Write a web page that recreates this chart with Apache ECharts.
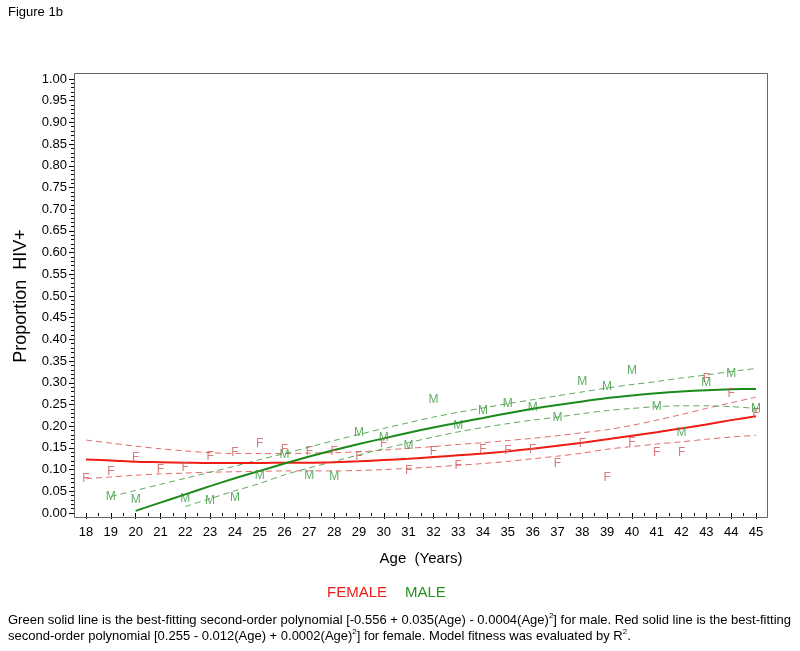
<!DOCTYPE html>
<html>
<head>
<meta charset="utf-8">
<title>Figure 1b</title>
<script src="https://cdn.jsdelivr.net/npm/echarts@6/dist/echarts.min.js"></script>
<style>
  html, body { margin: 0; padding: 0; background: #fff; }
  #chart { width: 800px; height: 651px; }
</style>
</head>
<body>
<div id="chart"></div>
<script>
// ages on the x axis
const ages = [18, 19, 20, 21, 22, 23, 24, 25, 26, 27, 28, 29, 30, 31,
  32, 33, 34, 35, 36, 37, 38, 39, 40, 41, 42, 43, 44, 45];

// observed proportions (the F / M letters)
const femaleObs = [0.079, 0.096, 0.128, 0.100, 0.105, 0.129, 0.138, 0.160, 0.146, 0.142,
  0.141, 0.129, 0.160, 0.097, 0.141, 0.108, 0.145, 0.143, 0.145, 0.114,
  0.160, 0.081, 0.162, 0.140, 0.138, 0.309, 0.274, 0.229];
const maleAges = [19, 20, 22, 23, 24, 25, 26, 27, 28, 29, 30, 31, 32,
  33, 34, 35, 36, 37, 38, 39, 40, 41, 42, 43, 44, 45];
const maleObs = [0.038, 0.031, 0.032, 0.029, 0.035, 0.085, 0.134, 0.085, 0.083, 0.184,
  0.173, 0.156, 0.260, 0.202, 0.236, 0.251, 0.243, 0.219, 0.303, 0.290,
  0.327, 0.246, 0.185, 0.300, 0.321, 0.240];

// fitted curves and bands, female 18-45
const femaleFit = [0.123, 0.121, 0.118, 0.117, 0.116, 0.115, 0.115, 0.115, 0.116, 0.116,
  0.117, 0.119, 0.122, 0.125, 0.129, 0.133, 0.137, 0.142, 0.148, 0.155,
  0.162, 0.170, 0.178, 0.186, 0.195, 0.204, 0.214, 0.223];
const femaleUpper = [0.168, 0.161, 0.154, 0.148, 0.143, 0.139, 0.137, 0.137, 0.137, 0.138,
  0.139, 0.141, 0.145, 0.149, 0.153, 0.158, 0.162, 0.167, 0.172, 0.178,
  0.185, 0.192, 0.202, 0.214, 0.227, 0.241, 0.254, 0.267];
const femaleLower = [0.079, 0.083, 0.087, 0.090, 0.092, 0.094, 0.095, 0.096, 0.097, 0.097,
  0.097, 0.098, 0.100, 0.103, 0.106, 0.110, 0.114, 0.119, 0.125, 0.131,
  0.138, 0.147, 0.153, 0.159, 0.164, 0.170, 0.175, 0.179];

// male: fit from 20, upper band from 19, lower band from 22
const maleFit = [0.005, 0.024, 0.043, 0.062, 0.080, 0.097, 0.114, 0.130, 0.145, 0.159,
  0.172, 0.185, 0.197, 0.208, 0.219, 0.230, 0.240, 0.249, 0.257, 0.265,
  0.271, 0.276, 0.280, 0.283, 0.285, 0.286];
const maleUpper = [0.038, 0.052, 0.066, 0.080, 0.094, 0.108, 0.123, 0.137, 0.152, 0.167,
  0.181, 0.195, 0.208, 0.221, 0.232, 0.242, 0.252, 0.261, 0.270, 0.279,
  0.288, 0.296, 0.303, 0.311, 0.318, 0.326, 0.333];
const maleLower = [0.015, 0.033, 0.051, 0.068, 0.088, 0.104, 0.119, 0.134, 0.148, 0.162,
  0.175, 0.187, 0.197, 0.206, 0.214, 0.221, 0.229, 0.236, 0.241, 0.245,
  0.247, 0.247, 0.245, 0.241];

const yTicks = [0, 1, 0.05];

function pairs(xs, ys) {
  return ys.map((v, i) => [xs[i], v]);
}
function fromAge(start, ys) {
  return pairs(ages.slice(ages.indexOf(start)), ys);
}

const FONT = "'Liberation Sans', Arial, sans-serif";
const RED = "#ee1c14";
const GREEN = "#1a8a1a";

let myChart = echarts.init(document.getElementById("chart"));

function letters(name, data, text, color) {
  return {
    name: name,
    type: "scatter",
    data: data,
    symbolSize: 1,
    itemStyle: { color: "rgba(0,0,0,0)" },
    label: {
      show: true,
      position: "inside",
      formatter: text,
      color: color,
      fontFamily: FONT,
      fontSize: 12,
    },
    z: 5,
  };
}
function curve(name, data, color, width, dashed) {
  return {
    name: name,
    type: "line",
    data: data,
    showSymbol: false,
    smooth: 0.3,
    lineStyle: {
      color: color,
      width: width,
      type: dashed ? [6, 4] : "solid",
    },
    z: dashed ? 2 : 3,
  };
}

myChart.setOption({
  animation: false,
  grid: {
    left: 86,
    right: 44,
    top: 79,
    bottom: 138,
  },
  xAxis: {
    type: "value",
    min: 18,
    max: 45,
    interval: 1,
    offset: 4,
    name: "Age  (Years)",
    nameLocation: "middle",
    nameGap: 34,
    nameTextStyle: { fontFamily: FONT, fontSize: 15, color: "#000" },
    axisLine: { show: false },
    axisTick: { length: 6, lineStyle: { color: "#000" } },
    minorTick: { show: true, splitNumber: 2, length: 3, lineStyle: { color: "#000" } },
    axisLabel: { fontFamily: FONT, fontSize: 13, color: "#000", margin: 9 },
    splitLine: { show: false },
  },
  yAxis: {
    type: "value",
    min: yTicks[0],
    max: yTicks[1],
    interval: yTicks[2],
    offset: 12,
    name: "Proportion  HIV+",
    nameLocation: "middle",
    nameGap: 44,
    nameTextStyle: { fontFamily: FONT, fontSize: 18, color: "#000" },
    axisLine: { show: false },
    axisTick: { length: 5, lineStyle: { color: "#000" } },
    minorTick: { show: true, splitNumber: 5, length: 3, lineStyle: { color: "#000" } },
    axisLabel: {
      fontFamily: FONT,
      fontSize: 13,
      color: "#000",
      margin: 7,
      formatter: (v) => v.toFixed(2),
    },
    splitLine: { show: false },
  },
  graphic: [
    {
      type: "rect",
      shape: { x: 74.5, y: 73.5, width: 693, height: 444 },
      style: { fill: "none", stroke: "#666", lineWidth: 1 },
      z: 10,
    },
    {
      type: "text",
      left: 8,
      top: 6,
      style: { text: "Figure 1b", font: "13px " + FONT, fill: "#000" },
    },
    {
      type: "text",
      left: 327,
      top: 585,
      style: { text: "FEMALE", font: "15px " + FONT, fill: RED },
    },
    {
      type: "text",
      left: 405,
      top: 585,
      style: { text: "MALE", font: "15px " + FONT, fill: "#24961e" },
    },
    {
      type: "text",
      left: 8,
      top: 612,
      style: {
        text:
          "{t|Green solid line is the best-fitting second-order polynomial [-0.556 + 0.035(Age) - 0.0004(Age)}{s|2}{t|] for male. Red solid line is the best-fitting}\n" +
          "{t|second-order polynomial [0.255 - 0.012(Age) + 0.0002(Age)}{s|2}{t|] for female. Model fitness was evaluated by R}{s|2}{t|.}",
        rich: {
          t: { font: "13px " + FONT, fill: "#000", lineHeight: 16 },
          s: { font: "8px " + FONT, fill: "#000", lineHeight: 16, padding: [0, 0, 9, 0] },
        },
      },
    },
  ],
  series: [
    curve("FEMALE", fromAge(18, femaleUpper), "#e26a6a", 1, true),
    curve("FEMALE", fromAge(18, femaleLower), "#e26a6a", 1, true),
    curve("MALE", fromAge(19, maleUpper), "#5fa85f", 1, true),
    curve("MALE", fromAge(22, maleLower), "#5fa85f", 1, true),
    curve("FEMALE", fromAge(18, femaleFit), RED, 2, false),
    curve("MALE", fromAge(20, maleFit), GREEN, 2, false),
    letters("FEMALE", pairs(ages, femaleObs), "F", "#cc5a55"),
    letters("MALE", pairs(maleAges, maleObs), "M", "#34983a"),
  ],
});
</script>
</body>
</html>
